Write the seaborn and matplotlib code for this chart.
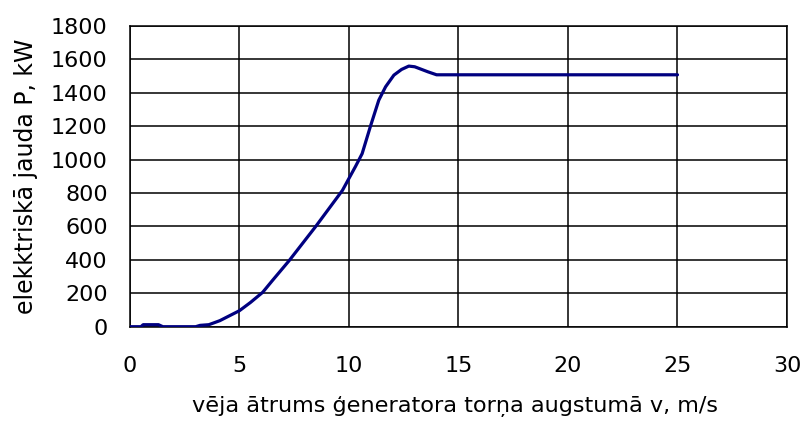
import matplotlib
matplotlib.use("Agg")
import seaborn as sns
import matplotlib.pyplot as plt

# vēja ātrums, m/s un elektriskā jauda, kW (nolasīts no attēla)
vejs = [0, 0.5, 0.6, 1.3, 1.5, 3.0, 3.2, 3.6, 4.1, 4.55, 5.0, 5.5, 6.06, 6.5,
        7.27, 8.48, 9.7, 10.0, 10.3, 10.6, 10.98, 11.36, 11.67, 12.05, 12.4,
        12.73, 13.0, 13.6, 14.0, 25.0]
jauda = [0, 0, 12, 12, 0, 0, 8, 12, 36, 66, 96, 145, 206, 276,
         396, 600, 816, 888, 960, 1036, 1200, 1356, 1436, 1506, 1540,
         1560, 1556, 1526, 1508, 1508]

x_ticks = [0, 5, 10, 15, 20, 25, 30]
y_ticks = list(range(0, 1801, 200))

sns.set_style("white")
plt.rcParams['font.family'] = ['DejaVu Sans']
plt.rcParams['text.color'] = '#000000'
plt.rcParams['xtick.color'] = '#000000'
plt.rcParams['ytick.color'] = '#000000'
plt.rcParams['axes.labelcolor'] = '#000000'

fig, ax = plt.subplots(figsize=(8.01, 4.25), dpi=100)
fig.subplots_adjust(left=0.1623, right=0.9825, bottom=0.2313, top=0.9388)

sns.lineplot(x=vejs, y=jauda, color='#000080', linewidth=2.3, ax=ax, zorder=3)

ax.set_xlim(0, 30)
ax.set_ylim(0, 1800)
ax.set_xticks(x_ticks)
ax.set_yticks(y_ticks)
ax.grid(True, color='#000000', linewidth=1.1)
ax.set_axisbelow(True)
for s in ax.spines.values():
    s.set_visible(True)
    s.set_color('#000000')
    s.set_linewidth(1.1)

ax.tick_params(axis='y', length=7, width=1.1, pad=9, labelsize=16)
ax.tick_params(axis='x', length=0, pad=21, labelsize=16)

ax.set_xlabel('vēja ātrums ģeneratora torņa augstumā v, m/s', fontsize=16.1)
ax.set_ylabel('elekktriskā jauda P, kW', fontsize=17)
ax.xaxis.set_label_coords(0.495, -0.23)
ax.yaxis.set_label_coords(-0.140, 0.5)

fig.savefig('out.png', dpi=100, facecolor='white')
